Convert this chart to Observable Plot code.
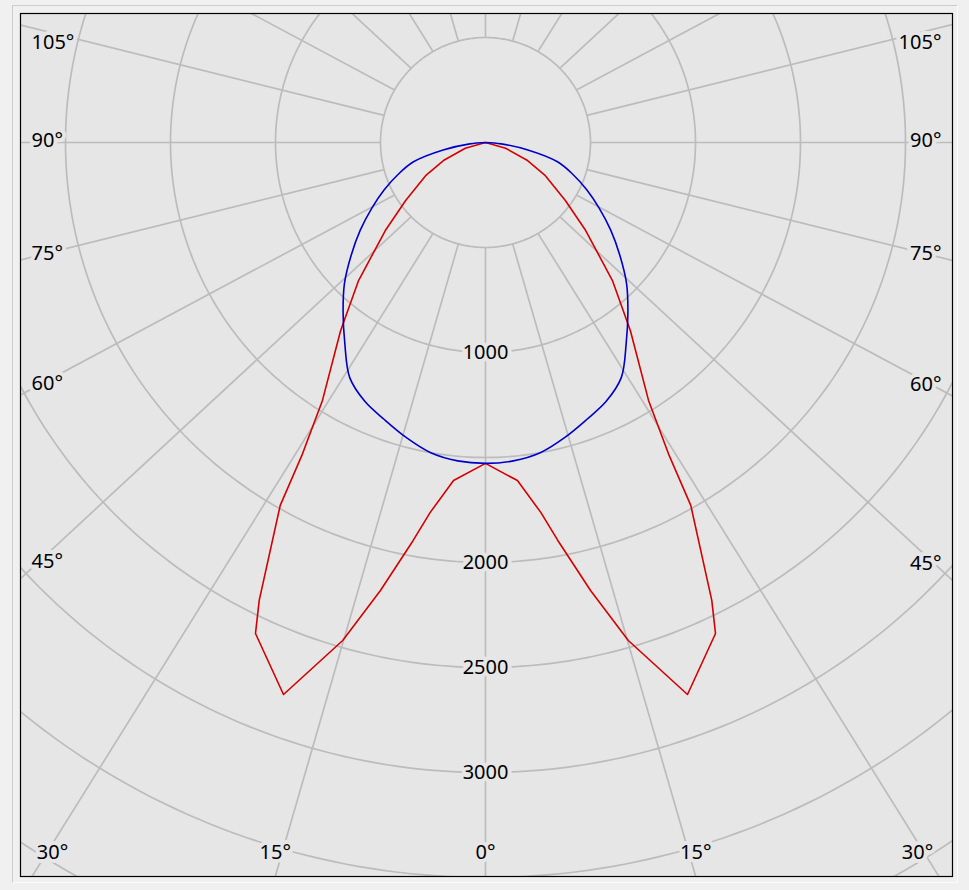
<!DOCTYPE html>
<html><head><meta charset="utf-8">
<script src="https://cdn.jsdelivr.net/npm/d3@7"></script>
<script src="https://cdn.jsdelivr.net/npm/@observablehq/plot@0.6"></script>
<style>
html,body{margin:0;padding:0;background:#f0f0f0;}
#wrap{position:relative;width:969px;height:890px;overflow:hidden;}
#panel{position:absolute;left:12px;top:5px;width:944px;height:876px;border-left:1px solid #cdcdcd;border-top:1px solid #cdcdcd;border-right:1px solid #fbfbfb;border-bottom:1px solid #fbfbfb;}
#chart{position:absolute;left:0;top:0;}
</style></head><body>
<div id="wrap"><div id="panel"></div><div id="chart"></div></div>
<script>
// ---- data (gamma in degrees from nadir, intensity in cd) ----
const redGamma = [0, 5.4, 8.5, 10.3, 13.2, 16.0, 20.1, 25.1, 26.3, 29.5, 30.4, 32.3, 37.6, 42.6, 48.7, 54, 61, 66.8, 74, 90];
const redIntensity = [1528, 1617, 1781, 1926, 2191, 2467, 2799, 2582, 2432, 1985, 1729, 1453, 1131, 893, 635, 470, 326, 218, 100, 0];
const blueGamma = [0, 5, 10, 15, 20, 25, 30, 35, 40, 45, 50, 55, 60, 65, 70, 75, 80, 85, 90];
const blueIntensity = [1528, 1522, 1500, 1455, 1405, 1360, 1293, 1168, 1055, 950, 835, 728, 625, 532, 442, 355, 205, 75, 0];
const ringValues = [500, 1000, 1500, 2000, 2500, 3000, 3500, 4000, 4500];
const ringLabels = [1000, 2000, 2500, 3000];
const angleTicks = [0, 15, 30, 45, 60, 75, 90, 105];

// ---- layout ----
const WIDTH = 969, HEIGHT = 890;
const L = 20, R = 952, T = 13, B = 876;      // frame edges (px)
const CX = 485, CY = 142;                      // pole position (px)
const S = 0.21;                                // px per cd
const FW = R - L, FH = B - T;
const R0 = 500;                                // inner ring where rays start
const rad = d => d * Math.PI / 180;
const BG = "#e6e6e6", GRID = "#bcbcbc";

// rings
const ringPts = [];
for (const r of ringValues) for (let i = 0; i <= 360; i++) {
  const t = rad(i);
  ringPts.push({r, x: r * Math.sin(t), y: r * Math.cos(t)});
}
// rays every 15 degrees
const rays = d3.range(0, 360, 15).map(a => {
  const t = rad(a);
  return {
    x1: R0 * Math.sin(t), y1: R0 * Math.cos(t),
    x2: (R0 * S * Math.sin(t) + 2 * FW * Math.sin(t)) / S,
    y2: (R0 * S * Math.cos(t) + 2 * FH * Math.cos(t)) / S
  };
});
// angle labels, placed where each ray leaves the frame
const angleLabels = [];
for (const a of angleTicks) for (const side of (a === 0 ? [1] : [-1, 1])) {
  const t = rad(a);
  const p0x = CX + side * R0 * S * Math.sin(t), p0y = CY + R0 * S * Math.cos(t);
  const dx = side * Math.sin(t) * FW, dy = Math.cos(t) * FH;
  const tx = dx > 1e-9 ? (R - p0x) / dx : dx < -1e-9 ? (L - p0x) / dx : Infinity;
  const ty = dy > 1e-9 ? (B - p0y) / dy : dy < -1e-9 ? (T - p0y) / dy : Infinity;
  let px, py, anchor;
  if (ty <= tx) {
    const ex = p0x + dx * ty;
    px = Math.min(Math.max(ex, L + 32), R - 35); py = B - 24; anchor = "middle";
  } else {
    px = side < 0 ? L + 11 : R - 11;
    const ly = p0y + dy * (px - p0x) / dx;
    py = Math.max(ly - 2 - 7 * Math.max(0, Math.cos(t)), T + 29); anchor = side < 0 ? "start" : "end";
  }
  angleLabels.push({x: (px - CX) / S, y: (py - CY) / S, text: a + "°", anchor});
}
// curves (symmetric planes)
function curve(gs, is) {
  const pts = [];
  for (let i = gs.length - 1; i >= 0; i--) pts.push({x: -is[i] * Math.sin(rad(gs[i])), y: is[i] * Math.cos(rad(gs[i]))});
  for (let i = 1; i < gs.length; i++) pts.push({x: is[i] * Math.sin(rad(gs[i])), y: is[i] * Math.cos(rad(gs[i]))});
  return pts;
}
const redPts = curve(redGamma, redIntensity);
const bluePts = curve(blueGamma, blueIntensity);

const txt = {fill: "#000", stroke: BG, strokeWidth: 8, paintOrder: "stroke", fontSize: 20};
const chart = Plot.plot({
  width: WIDTH, height: HEIGHT,
  marginLeft: L, marginRight: WIDTH - R, marginTop: T, marginBottom: HEIGHT - B,
  x: {domain: [(L - CX) / S, (R - CX) / S], axis: null},
  y: {domain: [(B - CY) / S, (T - CY) / S], axis: null},
  style: {background: "transparent", fontFamily: "'Noto Sans', 'Open Sans', sans-serif", overflow: "visible"},
  marks: [
    Plot.frame({fill: BG, stroke: "none"}),
    Plot.line(ringPts, {x: "x", y: "y", z: "r", stroke: GRID, strokeWidth: 1.7, clip: "frame"}),
    Plot.link(rays, {x1: "x1", y1: "y1", x2: "x2", y2: "y2", stroke: GRID, strokeWidth: 1.7, clip: "frame"}),
    Plot.text(ringLabels, {x: () => 0, y: d => d, text: d => String(d), ...txt}),
    Plot.text(angleLabels.filter(d => d.anchor === "start"), {x: "x", y: "y", text: "text", textAnchor: "start", ...txt}),
    Plot.text(angleLabels.filter(d => d.anchor === "end"), {x: "x", y: "y", text: "text", textAnchor: "end", ...txt}),
    Plot.text(angleLabels.filter(d => d.anchor === "middle"), {x: "x", y: "y", text: "text", textAnchor: "middle", ...txt}),
    Plot.line(redPts, {x: "x", y: "y", stroke: "#d40000", strokeWidth: 1.6, clip: "frame"}),
    Plot.line(bluePts, {x: "x", y: "y", stroke: "#0000c8", strokeWidth: 1.6, curve: "catmull-rom", clip: "frame"}),
    Plot.frame({stroke: "#000", strokeWidth: 1.2})
  ]
});
document.getElementById("chart").appendChild(chart);
</script></body></html>
